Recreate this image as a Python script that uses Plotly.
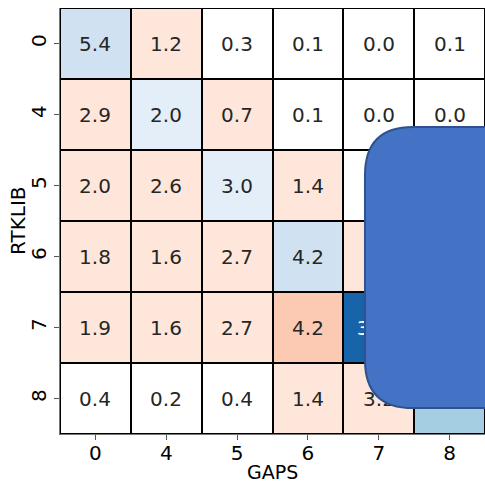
import plotly.graph_objects as go

# Class labels for both tools
gaps_labels = ["0", "4", "5", "6", "7", "8"]
rtklib_labels = ["0", "4", "5", "6", "7", "8"]

# Share (%) of epochs per (RTKLIB row, GAPS column) pair
row_0 = [5.4, 1.2, 0.3, 0.1, 0.0, 0.1]
row_4 = [2.9, 2.0, 0.7, 0.1, 0.0, 0.0]
row_5 = [2.0, 2.6, 3.0, 1.4, 0.2, 0.1]
row_6 = [1.8, 1.6, 2.7, 4.2, 1.9, 0.3]
row_7 = [1.9, 1.6, 2.7, 4.2, 30.6, 1.5]
row_8 = [0.4, 0.2, 0.4, 1.4, 3.2, 13.4]
values = [row_0, row_4, row_5, row_6, row_7, row_8]

# Binned colour scales (agreement on the diagonal in blues, disagreement in reds)
bin_edges = [0, 0.5, 4, 8, 12, 16, 20, 24, 28, 32, 40]
blues = ["#ffffff", "#e3eef9", "#d0e1f2", "#bad6eb", "#a6cee3",
         "#82bbdb", "#5fa6d1", "#3d8dc4", "#1764ab", "#08306b"]
reds = ["#ffffff", "#fee6da", "#fcc9b3", "#fcab8f", "#fc8a6a",
        "#f96a4d", "#ee4533", "#d52221", "#b11218", "#67000d"]
zmax = bin_edges[-1]


def stepped(colors):
    scale = []
    for i, c in enumerate(colors):
        scale.append([bin_edges[i] / zmax, c])
        scale.append([bin_edges[i + 1] / zmax, c])
    return scale


n = len(values)
dark_limit = 20
diag_light = [[values[i][j] if (i == j and values[i][j] < dark_limit) else None for j in range(n)] for i in range(n)]
diag_dark = [[values[i][j] if (i == j and values[i][j] >= dark_limit) else None for j in range(n)] for i in range(n)]
off_diag = [[values[i][j] if i != j else None for j in range(n)] for i in range(n)]

font_family = "DejaVu Sans"
cell_size = 20
common = dict(x=gaps_labels, y=rtklib_labels, zmin=0, zmax=zmax, showscale=False,
              xgap=2, ygap=2, texttemplate="%{z:.1f}", hoverinfo="skip")

fig = go.Figure()
fig.add_trace(go.Heatmap(z=off_diag, colorscale=stepped(reds),
                         textfont=dict(family=font_family, size=cell_size, color="#262626"), **common))
fig.add_trace(go.Heatmap(z=diag_light, colorscale=stepped(blues),
                         textfont=dict(family=font_family, size=cell_size, color="#262626"), **common))
fig.add_trace(go.Heatmap(z=diag_dark, colorscale=stepped(blues),
                         textfont=dict(family=font_family, size=cell_size, color="#ffffff"), **common))

# Rounded callout panel over the right-hand side
x0, x1 = 0.7176, 1.25
y0, y1 = 0.061, 0.7207
rx, ry = 0.113, 0.113
panel = (f"M {x0 + rx},{y1} L {x1},{y1} L {x1},{y0} L {x0 + rx},{y0} "
         f"Q {x0},{y0} {x0},{y0 + ry} L {x0},{y1 - ry} Q {x0},{y1} {x0 + rx},{y1} Z")
fig.add_shape(type="path", path=panel, xref="paper", yref="paper", layer="above",
              fillcolor="#4472c4", line=dict(color="#2f528f", width=2))

# Axis titles
fig.add_annotation(text="GAPS", xref="paper", yref="paper", x=0.5, y=0,
                   xanchor="center", yanchor="middle", yshift=-38, showarrow=False,
                   borderpad=0, font=dict(family=font_family, size=19, color="black"))
fig.add_annotation(text="RTKLIB", xref="paper", yref="paper", x=0, y=0.5,
                   xanchor="center", yanchor="middle", xshift=-42, textangle=-90,
                   borderpad=0, showarrow=False,
                   font=dict(family=font_family, size=20, color="black"))

fig.update_layout(
    width=485, height=484,
    margin=dict(l=60, r=0, t=8, b=50),
    paper_bgcolor="white", plot_bgcolor="black",
    font=dict(family=font_family, size=20, color="black"),
)
fig.update_xaxes(type="category", showgrid=False, zeroline=False, automargin=False,
                 ticks="outside", ticklen=5, tickcolor="#555555",
                 showline=True, linecolor="#777777", linewidth=1,
                 ticklabelstandoff=-4, tickfont=dict(size=20))
fig.update_yaxes(type="category", autorange="reversed", showgrid=False, zeroline=False,
                 automargin=False,
                 ticks="outside", ticklen=5, tickcolor="#555555",
                 showline=True, linecolor="#777777", linewidth=1,
                 tickangle=-90, tickfont=dict(size=20))

fig.write_html("out.html")
